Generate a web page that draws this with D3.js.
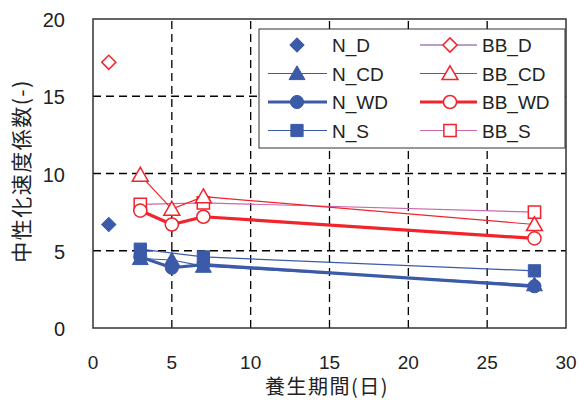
<!DOCTYPE html>
<html>
<head>
<meta charset="utf-8">
<script src="https://cdn.jsdelivr.net/npm/d3@7"></script>
<style>
body { margin: 0; background: #fff; }
text { font-family: "Liberation Sans", Arial, sans-serif; fill: #222; }
.jp { font-family: "Noto Sans CJK JP", sans-serif; }
</style>
</head>
<body>
<div id="chart"></div>
<script>
// series data (x = days, y = coefficient)
let days = [3, 5, 7, 28];
let daysS = [3, 7, 28];
let nD = [[1, 6.7]];
let nCD = [4.5, 4.4, 4.0, 2.8];
let nWD = [4.6, 3.9, 4.1, 2.7];
let nS = [5.1, 4.6, 3.7];
let bbD = [[1, 17.2]];
let bbCD = [9.9, 7.7, 8.5, 6.7];
let bbWD = [7.6, 6.7, 7.2, 5.8];
let bbS = [8.0, 8.1, 7.5];
let xTicks = [0, 5, 10, 15, 20, 25, 30];
let yTicks = [0, 5, 10, 15, 20];

let blue = "#3b5aa8", red = "#f0242a", purple = "#7a3a9a", pink = "#c868b0";

let width = 579, height = 400;
let m = {left: 93, right: 13, top: 19, bottom: 72};

let svg = d3.select("#chart").append("svg")
    .attr("width", width)
    .attr("height", height);

let x = d3.scaleLinear().domain([0, 30]).range([m.left, width - m.right]);
let y = d3.scaleLinear().domain([0, 20]).range([height - m.bottom, m.top]);

// dashed grid
svg.append("g").selectAll("line").data(xTicks.slice(1, -1)).enter().append("line")
    .attr("x1", d => x(d)).attr("x2", d => x(d))
    .attr("y1", y(0)).attr("y2", y(20))
    .attr("stroke", "#000").attr("stroke-width", 1.3).attr("stroke-dasharray", "8,5");
svg.append("g").selectAll("line").data(yTicks.slice(1, -1)).enter().append("line")
    .attr("x1", x(0)).attr("x2", x(30))
    .attr("y1", d => y(d)).attr("y2", d => y(d))
    .attr("stroke", "#000").attr("stroke-width", 1.3).attr("stroke-dasharray", "8,5");

// tick labels
svg.append("g").selectAll("text").data(xTicks).enter().append("text")
    .attr("x", d => x(d)).attr("y", 369)
    .attr("text-anchor", "middle").attr("font-size", 19)
    .text(d => d);
svg.append("g").selectAll("text").data(yTicks).enter().append("text")
    .attr("x", 65).attr("y", d => y(d) + 8)
    .attr("text-anchor", "end").attr("font-size", 20)
    .text(d => d);

svg.append("text").attr("class", "jp")
    .attr("x", 327).attr("y", 394)
    .attr("text-anchor", "middle").attr("font-size", 20)
    .attr("letter-spacing", 1.5)
    .text("養生期間(日)");
svg.append("text").attr("class", "jp")
    .attr("transform", "translate(29," + 171 + ") rotate(-90)")
    .attr("text-anchor", "middle").attr("font-size", 21)
    .attr("letter-spacing", 1.5)
    .text("中性化速度係数(-)");

let line = d3.line().x(d => x(d[0])).y(d => y(d[1]));

function sym(type, size) {
  return d3.symbol().type(type).size(size)();
}

let series = [
  {name: "N_S", pts: d3.zip(daysS, nS), color: blue, lw: 1.2, lineColor: blue, shape: d3.symbolSquare, size: 150, fill: blue},
  {name: "N_CD", pts: d3.zip(days, nCD), color: blue, lw: 1.2, lineColor: blue, shape: d3.symbolTriangle, size: 110, fill: blue},
  {name: "N_WD", pts: d3.zip(days, nWD), color: blue, lw: 3.2, lineColor: blue, shape: d3.symbolCircle, size: 135, fill: blue},
  {name: "N_D", pts: nD, color: blue, lw: 0, lineColor: "none", shape: "diamond", size: 100, fill: blue},
  {name: "BB_S", pts: d3.zip(daysS, bbS), color: red, lw: 1.2, lineColor: pink, shape: d3.symbolSquare, size: 150, fill: "#fff"},
  {name: "BB_CD", pts: d3.zip(days, bbCD), color: red, lw: 1.2, lineColor: red, shape: d3.symbolTriangle, size: 110, fill: "#fff"},
  {name: "BB_WD", pts: d3.zip(days, bbWD), color: red, lw: 3.2, lineColor: red, shape: d3.symbolCircle, size: 135, fill: "#fff"},
  {name: "BB_D", pts: bbD, color: red, lw: 1.2, lineColor: purple, shape: "diamond", size: 100, fill: "#fff"}
];

function marker(g, s, cx, cy) {
  let p = g.append("path")
      .attr("fill", s.fill)
      .attr("stroke", s.color)
      .attr("stroke-width", s.fill === "#fff" ? 1.5 : 1);
  if (s.shape === "diamond") {
    p.attr("d", sym(d3.symbolSquare, s.size))
     .attr("transform", "translate(" + cx + "," + cy + ") rotate(45)");
  } else {
    p.attr("d", sym(s.shape, s.size))
     .attr("transform", "translate(" + cx + "," + (cy + (s.shape === d3.symbolTriangle ? 1.5 : 0)) + ")");
  }
}

series.forEach(s => {
  let g = svg.append("g");
  if (s.pts.length > 1) {
    g.append("path").datum(s.pts)
      .attr("d", line)
      .attr("fill", "none")
      .attr("stroke", s.lineColor)
      .attr("stroke-width", s.lw);
  }
  s.pts.forEach(p => marker(g, s, x(p[0]), y(p[1])));
});

// legend
let lg = svg.append("g");
lg.append("rect")
    .attr("x", 259).attr("y", 29).attr("width", 306).attr("height", 119)
    .attr("fill", "#fff").attr("stroke", "#333").attr("stroke-width", 1);

let legendOrder = ["N_D", "N_CD", "N_WD", "N_S", "BB_D", "BB_CD", "BB_WD", "BB_S"];
legendOrder.forEach((nm, i) => {
  let s = series.find(d => d.name === nm);
  let col = Math.floor(i / 4), row = i % 4;
  let cy = 45 + row * 28.5;
  let x0 = col ? 420 : 268, x1 = col ? 477 : 327, cx = col ? 450 : 297;
  if (s.lineColor !== "none") {
    lg.append("line")
      .attr("x1", x0).attr("x2", x1).attr("y1", cy).attr("y2", cy)
      .attr("stroke", s.lineColor).attr("stroke-width", s.lw);
  }
  marker(lg, s, cx, cy);
  lg.append("text")
    .attr("x", col ? 482 : 332).attr("y", cy + 7)
    .attr("font-size", 19)
    .text(nm);
});

// frame
svg.append("rect")
    .attr("x", x(0)).attr("y", y(20))
    .attr("width", x(30) - x(0)).attr("height", y(0) - y(20))
    .attr("fill", "none").attr("stroke", "#333").attr("stroke-width", 1.5);
</script>
</body>
</html>
